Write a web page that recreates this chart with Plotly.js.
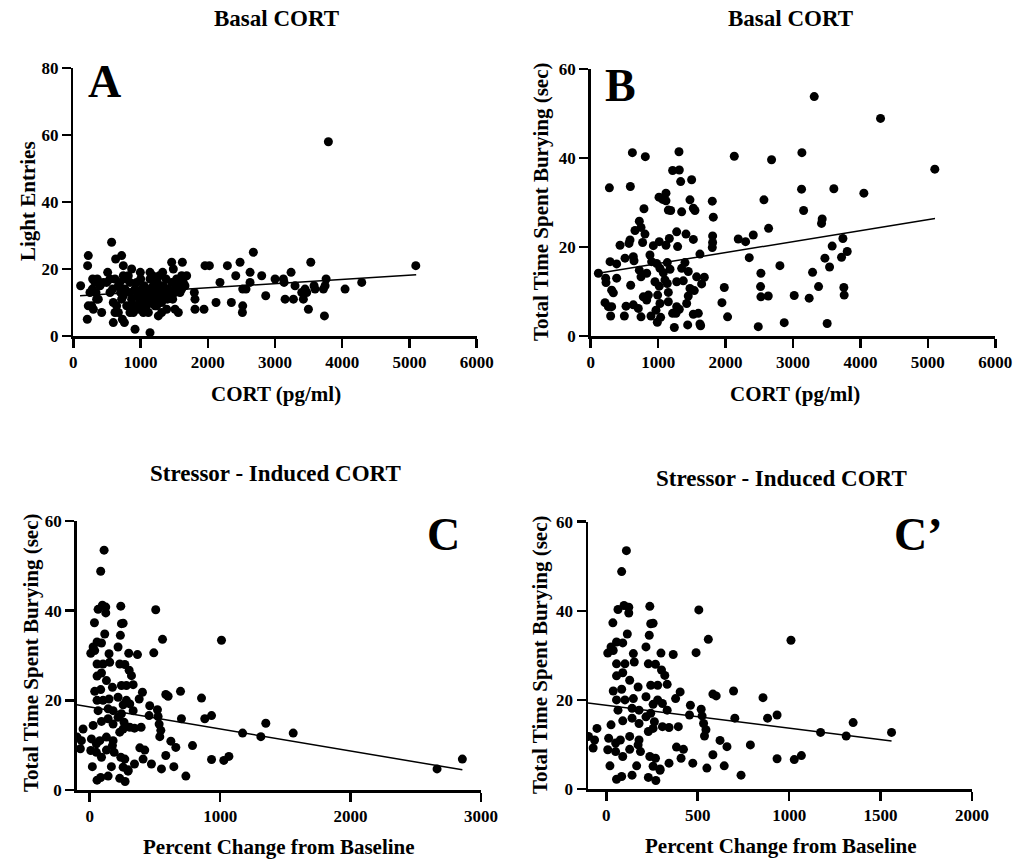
<!DOCTYPE html>
<html>
<head>
<meta charset="utf-8">
<script src="https://cdn.plot.ly/plotly-3.0.1.min.js"></script>
<style>html,body{margin:0;padding:0;background:#fff;}#chart{width:1018px;height:861px;}</style>
</head>
<body>
<div id="chart"></div>
<script>
// ---------------- DATA ----------------
// Panel A: Basal CORT (pg/ml) vs Light Entries
const panelA_points = [
[109,15],[223,24],[213,21],[223,9],[208,5],[288,17],[283,14],[347,11],[372,11],[422,7],
[298,8],[570,28],[511,19],[546,17],[585,14],[595,4],[630,23],[719,24],[744,21],[744,18],
[868,20],[719,11],[730,5],[760,4],[620,7],[918,2],[1141,1],[997,19],[1141,19],[1329,19],
[1463,22],[1622,22],[1488,20],[1686,18],[1537,17],[1612,14],[1513,14],[1562,7],[1513,8],[1265,6],
[1389,8],[1800,13],[1810,11],[1810,8],[1944,8],[1959,21],[2024,21],[2182,16],[2123,10],[2292,21],
[2351,10],[2416,18],[2480,22],[2520,9],[2515,7],[2520,14],[2569,14],[2629,16],[2629,19],[2678,25],
[2802,18],[2862,12],[3001,17],[3125,17],[3135,16],[3150,11],[3239,19],[3298,15],[3274,11],[3398,13],
[3422,11],[3447,14],[3472,13],[3497,8],[3532,22],[3581,15],[3596,14],[3720,14],[3745,15],[3760,17],
[3735,6],[3794,58],[4042,14],[4290,16],[5094,21],
[496,16],[620,17],[670,15],[694,16],[704,13],[744,12],[769,14],[794,17],[818,18],[843,16],
[843,13],[868,11],[883,9],[893,7],[918,14],[942,16],[952,12],[982,10],[992,8],[1002,17],
[1017,14],[1032,12],[1052,15],[1066,10],[1081,13],[1091,9],[1101,11],[1116,7],[1131,14],[1141,17],
[1151,12],[1166,10],[1180,18],[1190,15],[1200,13],[1215,9],[1230,11],[1250,16],[1265,14],[1280,18],
[1290,12],[1314,10],[1339,15],[1364,13],[1379,17],[1399,11],[1414,14],[1438,12],[1463,16],[1478,11],
[1513,13],[1537,15],[1587,13],[1612,18],[1637,16],[1661,15],[446,16],[397,15],[337,13],[357,17],
[322,16],[248,13],[273,9],[546,13],[595,10],[645,9],[670,7],[794,9],[843,7],[1240,9],
[1314,7],[1042,7],[942,8]
];
const panelA_fitX = [100, 5100];
const panelA_fitY = [12.0, 18.3];

// Panel B: Basal CORT (pg/ml) vs Total Time Spent Burying (sec)
const panelB_points = [
[3315,53.8],[4298,48.9],[618,41.2],[810,40.3],[1309,41.4],[2129,40.4],[2682,39.6],[3132,41.2],[5103,37.5],[1215,37.2],
[1314,37.3],[1334,34.7],[1497,35.1],[277,33.3],[588,33.6],[3127,33],[3606,33.1],[4051,32.1],[1013,31.2],[1067,30.7],
[1116,32.1],[1116,30.4],[1472,30.6],[1803,30.3],[2569,30.6],[790,28.6],[1151,28.3],[1186,28.2],[1349,27.9],[1522,28.7],
[1546,28.2],[3157,28.2],[1818,26.7],[3433,26.3],[3423,25.3],[721,25.8],[746,24.4],[657,23.7],[805,22.9],[1275,23.4],
[1413,22.9],[2638,24.2],[2188,21.8],[2297,21.2],[2411,22.7],[1808,22.5],[1808,21],[1803,19.9],[1522,21.7],[583,21.6],
[568,20.8],[770,21],[435,20.4],[1017,21.2],[1166,21.9],[1116,20.4],[929,20.3],[1289,20.1],[1620,18.4],[3740,21.9],
[3581,20.2],[3804,19],[3720,17.7],[3473,17.5],[3542,15.5],[509,17.5],[632,17.8],[642,16.9],[879,18.2],[904,16.7],
[978,16.3],[1136,16.5],[2351,17.6],[2806,15.8],[287,16.7],[385,16.2],[114,14.1],[222,13],[227,12],[385,13],
[721,14.8],[746,13.3],[830,14.1],[1027,15.2],[1077,14.2],[1176,15],[1101,12.6],[1349,15.2],[1398,16.5],[1447,14.5],
[1373,12.4],[1275,12.2],[1571,13.3],[1685,13.2],[1645,11.7],[2524,14.1],[3290,14.3],[593,11.4],[311,10.3],[336,9.7],
[953,12.2],[1017,11.2],[1136,11.8],[1472,10.7],[1536,10.2],[1447,9],[1151,9.8],[993,9.2],[855,9.2],[1981,10.9],
[2519,11.1],[3379,11.1],[3754,10.9],[3759,9.2],[2524,8.8],[2633,9],[3018,9.1],[3240,8.5],[1946,7.5],[212,7.5],
[262,6.6],[311,6.6],[296,4.5],[499,4.5],[524,6.7],[632,7],[706,6.2],[746,4.3],[780,8.8],[830,8.1],
[894,4.5],[968,5.8],[988,3.1],[1037,4.2],[1027,7.3],[1151,7.7],[1215,5.1],[1275,6.6],[1314,6],[1265,5.1],
[1240,1.9],[1423,7.3],[1438,2.5],[1522,4.9],[1596,5.1],[1620,2.7],[1630,2.3],[2030,4.3],[2485,2.1],[2870,3],
[3507,2.8]
];
const panelB_fitX = [113, 5106];
const panelB_fitY = [14.1, 26.4];

// Panels C and C': Percent Change from Baseline vs Total Time Spent Burying (sec)
const panelC_points = [
[110,53.5],[84,48.8],[97,41.2],[123,40.8],[64,40.3],[123,39.5],[238,41],[506,40.2],[36,37.3],[243,37.1],
[256,37.2],[115,34.8],[235,34.5],[558,33.6],[1010,33.4],[56,33],[90,32.8],[26,31.9],[217,31.9],[8,30.5],
[38,31.1],[148,30.4],[299,30.5],[366,30.2],[491,30.6],[56,28.1],[102,28.1],[153,28.5],[230,28.1],[269,28],
[90,26.1],[302,26.7],[320,25.5],[56,25.4],[128,24.4],[243,23.3],[281,23.3],[333,23.5],[38,22],[84,22.4],
[174,22.9],[404,21.8],[583,21.3],[601,20.9],[696,22],[857,20.5],[56,20],[102,20],[148,20.3],[217,20.7],
[281,20],[379,20.3],[460,18.8],[64,17.7],[141,18.1],[179,17.7],[256,19],[307,19.2],[333,17.7],[519,17.9],
[455,16.6],[524,16.4],[703,15.9],[882,15.9],[934,16.6],[26,14.4],[90,15.3],[141,15.9],[179,14.7],[217,16.2],
[243,17],[263,15.1],[307,14],[343,13.8],[394,14],[532,14.7],[545,13.3],[1350,14.9],[1172,12.7],[1312,11.9],
[1560,12.7],[-97,11.8],[-51,13.6],[-64,11],[-72,9.2],[13,11.4],[51,10.3],[77,11],[128,11.8],[179,11],
[230,12.9],[256,13.6],[537,11.9],[622,10.9],[660,9.5],[788,9.9],[8,8.8],[51,8.4],[90,7.3],[128,8.9],
[174,9.9],[187,8.4],[384,9.4],[422,8.9],[409,6.9],[583,7.7],[934,6.8],[1028,6.6],[1067,7.5],[20,5.2],
[166,5.2],[238,7.3],[256,5.1],[269,6.9],[294,4.5],[343,5.8],[473,5.8],[550,4.7],[645,5.2],[737,3.1],
[56,2.2],[84,2.8],[141,3.1],[230,2.6],[271,1.9],[294,4.2],[2663,4.7],[2857,6.9]
];
const panelC_fitX = [-100, 2857];
const panelC_fitY = [19.0, 4.5];
const panelCp_fitX = [-100, 1560];
const panelCp_fitY = [19.3, 10.8];

const panelTitles = ['Basal CORT', 'Basal CORT', 'Stressor - Induced CORT', 'Stressor - Induced CORT'];
const panelLetters = ['A', 'B', 'C', 'C\u2019'];
const xTitles = ['CORT (pg/ml)', 'CORT (pg/ml)', 'Percent Change from Baseline', 'Percent Change from Baseline'];
const yTitles = ['Light Entries', 'Total Time Spent Burying (sec)', 'Total Time Spent Burying (sec)', 'Total Time Spent Burying (sec)'];
const xTicksAB = [0, 1000, 2000, 3000, 4000, 5000, 6000];
const xTicksC = [0, 1000, 2000, 3000];
const xTicksCp = [0, 500, 1000, 1500, 2000];
const yTicksA = [0, 20, 40, 60, 80];
const yTicksBC = [0, 20, 40, 60];

// ---------------- DRAW ----------------
const W = 1018, H = 861;
const FONT = 'Liberation Serif, Times New Roman, serif';
const px = v => v / W;
const py = v => 1 - v / H;

function dots(points, xa, ya) {
  return {x: points.map(p => p[0]), y: points.map(p => p[1]), xaxis: xa, yaxis: ya,
    type: 'scatter', mode: 'markers', marker: {color: '#000', size: 9}, hoverinfo: 'x+y', showlegend: false};
}
function fit(xs, ys, xa, ya) {
  return {x: xs, y: ys, xaxis: xa, yaxis: ya, type: 'scatter', mode: 'lines',
    line: {color: '#000', width: 1.5}, hoverinfo: 'skip', showlegend: false};
}

const data = [
  dots(panelA_points, 'x', 'y'), fit(panelA_fitX, panelA_fitY, 'x', 'y'),
  dots(panelB_points, 'x2', 'y2'), fit(panelB_fitX, panelB_fitY, 'x2', 'y2'),
  dots(panelC_points, 'x3', 'y3'), fit(panelC_fitX, panelC_fitY, 'x3', 'y3'),
  dots(panelC_points, 'x4', 'y4'), fit(panelCp_fitX, panelCp_fitY, 'x4', 'y4')
];

const tickFont = {family: FONT, size: 17, color: '#000', weight: 'bold'};
function ax(extra) {
  return Object.assign({showline: true, linecolor: '#000', linewidth: 2.5, ticks: 'outside', ticklen: 9,
    tickwidth: 2.5, tickcolor: '#000', showgrid: false, zeroline: false, tickfont: tickFont,
    fixedrange: true, automargin: false, tickmode: 'array'}, extra);
}

const layout = {
  width: W, height: H, margin: {l: 0, r: 0, t: 0, b: 0}, paper_bgcolor: '#fff', plot_bgcolor: '#fff',
  showlegend: false,
  xaxis:  ax({domain: [px(73.3), px(476.7)], range: [0, 6000], tickvals: xTicksAB, anchor: 'y'}),
  yaxis:  ax({domain: [py(336), py(68)], range: [0, 80], tickvals: yTicksA, anchor: 'x'}),
  xaxis2: ax({domain: [px(590.7), px(995.3)], range: [0, 6000], tickvals: xTicksAB, anchor: 'y2'}),
  yaxis2: ax({domain: [py(336), py(69)], range: [0, 60], tickvals: yTicksBC, anchor: 'x2'}),
  xaxis3: ax({domain: [px(76.7), px(481)], range: [-100, 3000], tickvals: xTicksC, anchor: 'y3'}),
  yaxis3: ax({domain: [py(790), py(521)], range: [0, 60], tickvals: yTicksBC, anchor: 'x3'}),
  xaxis4: ax({domain: [px(588), px(972)], range: [-100, 2000], tickvals: xTicksCp, anchor: 'y4'}),
  yaxis4: ax({domain: [py(789), py(521.7)], range: [0, 60], tickvals: yTicksBC, anchor: 'x4'}),
  annotations: []
};

function ann(text, x, y, size, angle) {
  layout.annotations.push({text: text, xref: 'paper', yref: 'paper', x: px(x), y: py(y),
    xanchor: 'center', yanchor: 'middle', showarrow: false, textangle: angle || 0,
    font: {family: FONT, size: size, color: '#000', weight: 'bold'}});
}
// panel titles
ann(panelTitles[0], 276, 18, 23);
ann(panelTitles[1], 790, 18, 23);
ann(panelTitles[2], 275, 473, 23);
ann(panelTitles[3], 781, 478, 23);
// panel letters
ann(panelLetters[0], 104, 81, 46);
ann(panelLetters[1], 620, 86, 46);
ann(panelLetters[2], 443, 534, 46);
ann(panelLetters[3], 918, 534, 46);
// x-axis titles
ann(xTitles[0], 276, 394, 21);
ann(xTitles[1], 795, 394, 21);
ann(xTitles[2], 279, 847, 21);
ann(xTitles[3], 781, 846, 21);
// y-axis titles
ann(yTitles[0], 28, 201, 21, -90);
ann(yTitles[1], 541, 202, 21, -90);
ann(yTitles[2], 31, 653, 21, -90);
ann(yTitles[3], 540, 655, 21, -90);

Plotly.newPlot('chart', data, layout, {staticPlot: true, displayModeBar: false});
</script>
</body>
</html>
